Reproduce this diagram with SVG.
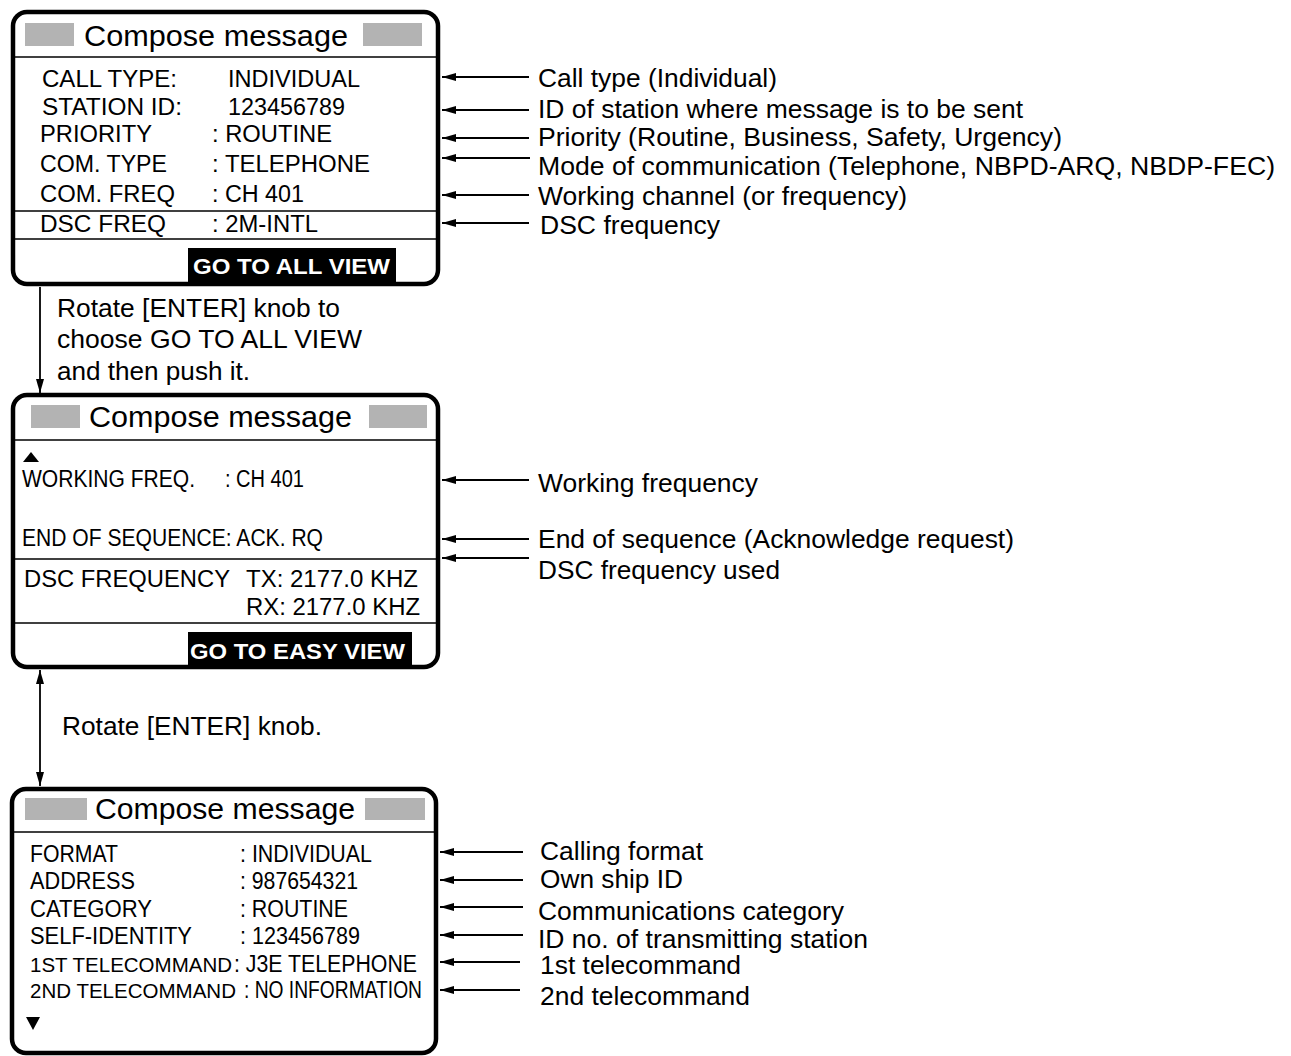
<svg xmlns="http://www.w3.org/2000/svg" width="1291" height="1056" viewBox="0 0 1291 1056">
<style>
text{font-family:"Liberation Sans",Arial,sans-serif;fill:#000}
.frame{fill:#fff;stroke:#000;stroke-width:4.5}
.div{stroke:#000;stroke-width:1.5}
.gray{fill:#b3b3b3}
.title{font-size:30px}
.body{font-size:23.5px}
.tight{font-size:20.5px}
.btn{font-size:22.5px;font-weight:bold;fill:#fff}
.note{font-size:25.5px}
.cap{font-size:25.5px}
.arr{stroke:#000;stroke-width:1.8;fill:none}
</style>
<defs>
<marker id="ah" markerUnits="userSpaceOnUse" markerWidth="14" markerHeight="8" viewBox="0 0 14 8" refX="14" refY="4" orient="auto">
<path d="M0,0 L14,4 L0,8 z" fill="#000"/>
</marker>
<marker id="ahs" markerUnits="userSpaceOnUse" markerWidth="14" markerHeight="8" viewBox="0 0 14 8" refX="0" refY="4" orient="auto">
<path d="M14,0 L0,4 L14,8 z" fill="#000"/>
</marker>
</defs>

<g id="box-easy-view">
<rect class="frame" x="13" y="12" width="425" height="272" rx="14"/>
<rect class="gray" x="25" y="23" width="49" height="23"/>
<rect class="gray" x="363" y="23" width="59" height="23"/>
<text class="title" x="84" y="46" textLength="264" lengthAdjust="spacingAndGlyphs">Compose message</text>
<line class="div" x1="13" y1="57" x2="438" y2="57"/>
<text class="body" x="42" y="87" textLength="135" lengthAdjust="spacingAndGlyphs">CALL TYPE:</text>
<text class="body" x="228" y="87" textLength="132" lengthAdjust="spacingAndGlyphs">INDIVIDUAL</text>
<text class="body" x="42" y="115" textLength="140" lengthAdjust="spacingAndGlyphs">STATION ID:</text>
<text class="body" x="228" y="115" textLength="117" lengthAdjust="spacingAndGlyphs">123456789</text>
<text class="body" x="40" y="142" textLength="112" lengthAdjust="spacingAndGlyphs">PRIORITY</text>
<text class="body" x="212" y="142" textLength="120" lengthAdjust="spacingAndGlyphs">: ROUTINE</text>
<text class="body" x="40" y="172" textLength="127" lengthAdjust="spacingAndGlyphs">COM. TYPE</text>
<text class="body" x="212" y="172" textLength="158" lengthAdjust="spacingAndGlyphs">: TELEPHONE</text>
<text class="body" x="40" y="202" textLength="135" lengthAdjust="spacingAndGlyphs">COM. FREQ</text>
<text class="body" x="212" y="202" textLength="92" lengthAdjust="spacingAndGlyphs">: CH 401</text>
<line class="div" x1="13" y1="211" x2="438" y2="211"/>
<text class="body" x="40" y="232" textLength="126" lengthAdjust="spacingAndGlyphs">DSC FREQ</text>
<text class="body" x="212" y="232" textLength="106" lengthAdjust="spacingAndGlyphs">: 2M-INTL</text>
<line class="div" x1="13" y1="239" x2="438" y2="239"/>
<rect x="188" y="248" width="208" height="34" fill="#000"/>
<text class="btn" x="193" y="274" textLength="197" lengthAdjust="spacingAndGlyphs">GO TO ALL VIEW</text>
</g>

<g id="box-all-view">
<rect class="frame" x="13" y="395" width="425" height="272" rx="14"/>
<rect class="gray" x="31" y="405" width="49" height="23"/>
<rect class="gray" x="369" y="405" width="58" height="23"/>
<text class="title" x="89" y="427" textLength="263" lengthAdjust="spacingAndGlyphs">Compose message</text>
<line class="div" x1="13" y1="440" x2="438" y2="440"/>
<polygon points="23,462 39,462 31,452" fill="#000"/>
<text class="body" x="22" y="487" textLength="173" lengthAdjust="spacingAndGlyphs">WORKING FREQ.</text>
<text class="body" x="225" y="487" textLength="79" lengthAdjust="spacingAndGlyphs">: CH 401</text>
<text class="body" x="22" y="546" textLength="301" lengthAdjust="spacingAndGlyphs">END OF SEQUENCE: ACK. RQ</text>
<line class="div" x1="13" y1="559" x2="438" y2="559"/>
<text class="body" x="24" y="587" textLength="206" lengthAdjust="spacingAndGlyphs">DSC FREQUENCY</text>
<text class="body" x="246" y="587" textLength="172" lengthAdjust="spacingAndGlyphs">TX: 2177.0 KHZ</text>
<text class="body" x="246" y="615" textLength="174" lengthAdjust="spacingAndGlyphs">RX: 2177.0 KHZ</text>
<line class="div" x1="13" y1="623" x2="438" y2="623"/>
<rect x="188" y="632" width="224" height="33" fill="#000"/>
<text class="btn" x="190" y="659" textLength="215" lengthAdjust="spacingAndGlyphs">GO TO EASY VIEW</text>
</g>

<g id="box-detail-view">
<rect class="frame" x="12" y="789" width="424" height="264" rx="14"/>
<rect class="gray" x="25" y="798" width="62" height="22"/>
<rect class="gray" x="365" y="798" width="60" height="22"/>
<text class="title" x="95" y="819" textLength="260" lengthAdjust="spacingAndGlyphs">Compose message</text>
<line class="div" x1="12" y1="832" x2="436" y2="832"/>
<text class="body" x="30" y="862" textLength="88" lengthAdjust="spacingAndGlyphs">FORMAT</text>
<text class="body" x="240" y="862" textLength="132" lengthAdjust="spacingAndGlyphs">: INDIVIDUAL</text>
<text class="body" x="30" y="889" textLength="105" lengthAdjust="spacingAndGlyphs">ADDRESS</text>
<text class="body" x="240" y="889" textLength="118" lengthAdjust="spacingAndGlyphs">: 987654321</text>
<text class="body" x="30" y="917" textLength="122" lengthAdjust="spacingAndGlyphs">CATEGORY</text>
<text class="body" x="240" y="917" textLength="108" lengthAdjust="spacingAndGlyphs">: ROUTINE</text>
<text class="body" x="30" y="944" textLength="162" lengthAdjust="spacingAndGlyphs">SELF-IDENTITY</text>
<text class="body" x="240" y="944" textLength="120" lengthAdjust="spacingAndGlyphs">: 123456789</text>
<text class="tight" x="30" y="972" textLength="202" lengthAdjust="spacingAndGlyphs">1ST TELECOMMAND</text>
<text class="body" x="234" y="972" textLength="183" lengthAdjust="spacingAndGlyphs">: J3E TELEPHONE</text>
<text class="tight" x="30" y="998" textLength="206" lengthAdjust="spacingAndGlyphs">2ND TELECOMMAND</text>
<text class="body" x="244" y="998" textLength="178" lengthAdjust="spacingAndGlyphs">: NO INFORMATION</text>
<polygon points="26,1017 40,1017 33,1030" fill="#000"/>
</g>

<g id="connectors">
<line class="arr" x1="529" y1="77" x2="442" y2="77" marker-end="url(#ah)"/>
<line class="arr" x1="529" y1="110" x2="442" y2="110" marker-end="url(#ah)"/>
<line class="arr" x1="529" y1="138" x2="442" y2="138" marker-end="url(#ah)"/>
<line class="arr" x1="530" y1="158" x2="442" y2="158" marker-end="url(#ah)"/>
<line class="arr" x1="529" y1="195" x2="442" y2="195" marker-end="url(#ah)"/>
<line class="arr" x1="529" y1="223" x2="442" y2="223" marker-end="url(#ah)"/>
<line class="arr" x1="529" y1="480" x2="442" y2="480" marker-end="url(#ah)"/>
<line class="arr" x1="529" y1="539" x2="442" y2="539" marker-end="url(#ah)"/>
<line class="arr" x1="529" y1="558" x2="442" y2="558" marker-end="url(#ah)"/>
<line class="arr" x1="523" y1="852" x2="440" y2="852" marker-end="url(#ah)"/>
<line class="arr" x1="523" y1="880" x2="440" y2="880" marker-end="url(#ah)"/>
<line class="arr" x1="523" y1="907" x2="440" y2="907" marker-end="url(#ah)"/>
<line class="arr" x1="523" y1="935" x2="440" y2="935" marker-end="url(#ah)"/>
<line class="arr" x1="520" y1="962" x2="440" y2="962" marker-end="url(#ah)"/>
<line class="arr" x1="520" y1="990" x2="440" y2="990" marker-end="url(#ah)"/>
<line class="arr" x1="40" y1="287" x2="40" y2="393" marker-end="url(#ah)"/>
<line class="arr" x1="40" y1="670" x2="40" y2="786" marker-start="url(#ahs)" marker-end="url(#ah)"/>
</g>

<g id="labels">
<text class="note" x="538" y="87" textLength="239" lengthAdjust="spacingAndGlyphs">Call type (Individual)</text>
<text class="note" x="538" y="118" textLength="485" lengthAdjust="spacingAndGlyphs">ID of station where message is to be sent</text>
<text class="note" x="538" y="146" textLength="524" lengthAdjust="spacingAndGlyphs">Priority (Routine, Business, Safety, Urgency)</text>
<text class="note" x="538" y="175" textLength="737" lengthAdjust="spacingAndGlyphs">Mode of communication (Telephone, NBPD-ARQ, NBDP-FEC)</text>
<text class="note" x="538" y="205" textLength="369" lengthAdjust="spacingAndGlyphs">Working channel (or frequency)</text>
<text class="note" x="540" y="234" textLength="180" lengthAdjust="spacingAndGlyphs">DSC frequency</text>
<text class="note" x="538" y="492" textLength="220" lengthAdjust="spacingAndGlyphs">Working frequency</text>
<text class="note" x="538" y="548" textLength="476" lengthAdjust="spacingAndGlyphs">End of sequence (Acknowledge request)</text>
<text class="note" x="538" y="579" textLength="242" lengthAdjust="spacingAndGlyphs">DSC frequency used</text>
<text class="note" x="540" y="860" textLength="163" lengthAdjust="spacingAndGlyphs">Calling format</text>
<text class="note" x="540" y="888" textLength="143" lengthAdjust="spacingAndGlyphs">Own ship ID</text>
<text class="note" x="538" y="920" textLength="306" lengthAdjust="spacingAndGlyphs">Communications category</text>
<text class="note" x="538" y="948" textLength="330" lengthAdjust="spacingAndGlyphs">ID no. of transmitting station</text>
<text class="note" x="540" y="974" textLength="201" lengthAdjust="spacingAndGlyphs">1st telecommand</text>
<text class="note" x="540" y="1005" textLength="210" lengthAdjust="spacingAndGlyphs">2nd telecommand</text>
<text class="cap" x="57" y="317" textLength="283" lengthAdjust="spacingAndGlyphs">Rotate [ENTER] knob to</text>
<text class="cap" x="57" y="348" textLength="305" lengthAdjust="spacingAndGlyphs">choose GO TO ALL VIEW</text>
<text class="cap" x="57" y="380" textLength="193" lengthAdjust="spacingAndGlyphs">and then push it.</text>
<text class="cap" x="62" y="735" textLength="260" lengthAdjust="spacingAndGlyphs">Rotate [ENTER] knob.</text>
</g>
</svg>
